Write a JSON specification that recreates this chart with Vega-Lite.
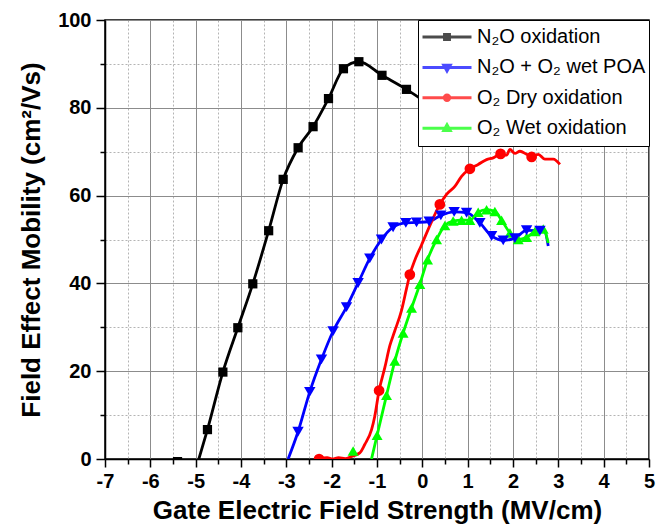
{
  "$schema": "https://vega.github.io/schema/vega-lite/v6.json",
  "width": 544,
  "height": 439,
  "autosize": "none",
  "padding": {"left": 105, "top": 20, "right": 10, "bottom": 72},
  "background": "white",
  "config": {
    "view": {"stroke": "black", "strokeWidth": 1.5},
    "font": "Liberation Sans"
  },
  "datasets": {
    "lines": [
      {"series": "N₂O oxidation", "field_strength": -4.93, "mobility": 0},
      {"series": "N₂O oxidation", "field_strength": -4.74, "mobility": 6.7},
      {"series": "N₂O oxidation", "field_strength": -4.40, "mobility": 19.8},
      {"series": "N₂O oxidation", "field_strength": -4.07, "mobility": 29.9},
      {"series": "N₂O oxidation", "field_strength": -3.74, "mobility": 39.9},
      {"series": "N₂O oxidation", "field_strength": -3.39, "mobility": 52.0},
      {"series": "N₂O oxidation", "field_strength": -3.07, "mobility": 63.7},
      {"series": "N₂O oxidation", "field_strength": -2.74, "mobility": 70.9},
      {"series": "N₂O oxidation", "field_strength": -2.41, "mobility": 75.7},
      {"series": "N₂O oxidation", "field_strength": -2.07, "mobility": 82.1},
      {"series": "N₂O oxidation", "field_strength": -1.74, "mobility": 88.9},
      {"series": "N₂O oxidation", "field_strength": -1.40, "mobility": 90.5},
      {"series": "N₂O oxidation", "field_strength": -0.89, "mobility": 87.4},
      {"series": "N₂O oxidation", "field_strength": -0.35, "mobility": 84.2},
      {"series": "N₂O oxidation", "field_strength": 0.0, "mobility": 81.8},

      {"series": "N₂O + O₂ wet POA", "field_strength": -2.96, "mobility": 0},
      {"series": "N₂O + O₂ wet POA", "field_strength": -2.742, "mobility": 6.2},
      {"series": "N₂O + O₂ wet POA", "field_strength": -2.483, "mobility": 15.3},
      {"series": "N₂O + O₂ wet POA", "field_strength": -2.225, "mobility": 22.7},
      {"series": "N₂O + O₂ wet POA", "field_strength": -1.969, "mobility": 29.1},
      {"series": "N₂O + O₂ wet POA", "field_strength": -1.673, "mobility": 34.6},
      {"series": "N₂O + O₂ wet POA", "field_strength": -1.417, "mobility": 40.1},
      {"series": "N₂O + O₂ wet POA", "field_strength": -1.159, "mobility": 45.7},
      {"series": "N₂O + O₂ wet POA", "field_strength": -0.901, "mobility": 50.0},
      {"series": "N₂O + O₂ wet POA", "field_strength": -0.645, "mobility": 52.8},
      {"series": "N₂O + O₂ wet POA", "field_strength": -0.364, "mobility": 53.8},
      {"series": "N₂O + O₂ wet POA", "field_strength": -0.128, "mobility": 53.9},
      {"series": "N₂O + O₂ wet POA", "field_strength": 0.150, "mobility": 54.1},
      {"series": "N₂O + O₂ wet POA", "field_strength": 0.408, "mobility": 55.5},
      {"series": "N₂O + O₂ wet POA", "field_strength": 0.702, "mobility": 56.3},
      {"series": "N₂O + O₂ wet POA", "field_strength": 0.976, "mobility": 56.1},
      {"series": "N₂O + O₂ wet POA", "field_strength": 1.269, "mobility": 53.8},
      {"series": "N₂O + O₂ wet POA", "field_strength": 1.528, "mobility": 50.8},
      {"series": "N₂O + O₂ wet POA", "field_strength": 1.784, "mobility": 49.8},
      {"series": "N₂O + O₂ wet POA", "field_strength": 2.042, "mobility": 50.3},
      {"series": "N₂O + O₂ wet POA", "field_strength": 2.300, "mobility": 52.1},
      {"series": "N₂O + O₂ wet POA", "field_strength": 2.594, "mobility": 52.0},
      {"series": "N₂O + O₂ wet POA", "field_strength": 2.704, "mobility": 51.7},
      {"series": "N₂O + O₂ wet POA", "field_strength": 2.777, "mobility": 48.5},

      {"series": "O₂ Dry oxidation", "field_strength": -2.278, "mobility": 0},
      {"series": "O₂ Dry oxidation", "field_strength": -2.10, "mobility": 0.3},
      {"series": "O₂ Dry oxidation", "field_strength": -1.98, "mobility": 0},
      {"series": "O₂ Dry oxidation", "field_strength": -1.85, "mobility": 0.3},
      {"series": "O₂ Dry oxidation", "field_strength": -1.70, "mobility": 0.1},
      {"series": "O₂ Dry oxidation", "field_strength": -1.56, "mobility": 0.6},
      {"series": "O₂ Dry oxidation", "field_strength": -1.38, "mobility": 1.4},
      {"series": "O₂ Dry oxidation", "field_strength": -1.27, "mobility": 3.3},
      {"series": "O₂ Dry oxidation", "field_strength": -1.12, "mobility": 6.7},
      {"series": "O₂ Dry oxidation", "field_strength": -1.05, "mobility": 9.7},
      {"series": "O₂ Dry oxidation", "field_strength": -0.954, "mobility": 15.6},
      {"series": "O₂ Dry oxidation", "field_strength": -0.828, "mobility": 20.8},
      {"series": "O₂ Dry oxidation", "field_strength": -0.717, "mobility": 25.8},
      {"series": "O₂ Dry oxidation", "field_strength": -0.607, "mobility": 29.2},
      {"series": "O₂ Dry oxidation", "field_strength": -0.460, "mobility": 33.8},
      {"series": "O₂ Dry oxidation", "field_strength": -0.349, "mobility": 38.8},
      {"series": "O₂ Dry oxidation", "field_strength": -0.276, "mobility": 42.0},
      {"series": "O₂ Dry oxidation", "field_strength": -0.166, "mobility": 45.3},
      {"series": "O₂ Dry oxidation", "field_strength": -0.02, "mobility": 48.7},
      {"series": "O₂ Dry oxidation", "field_strength": 0.18, "mobility": 53.5},
      {"series": "O₂ Dry oxidation", "field_strength": 0.386, "mobility": 58.0},
      {"series": "O₂ Dry oxidation", "field_strength": 0.534, "mobility": 60.3},
      {"series": "O₂ Dry oxidation", "field_strength": 0.717, "mobility": 62.1},
      {"series": "O₂ Dry oxidation", "field_strength": 0.865, "mobility": 64.4},
      {"series": "O₂ Dry oxidation", "field_strength": 1.049, "mobility": 66.1},
      {"series": "O₂ Dry oxidation", "field_strength": 1.232, "mobility": 67.1},
      {"series": "O₂ Dry oxidation", "field_strength": 1.417, "mobility": 68.2},
      {"series": "O₂ Dry oxidation", "field_strength": 1.563, "mobility": 68.6},
      {"series": "O₂ Dry oxidation", "field_strength": 1.726, "mobility": 69.5},
      {"series": "O₂ Dry oxidation", "field_strength": 1.859, "mobility": 69.2},
      {"series": "O₂ Dry oxidation", "field_strength": 1.932, "mobility": 70.5},
      {"series": "O₂ Dry oxidation", "field_strength": 2.042, "mobility": 69.6},
      {"series": "O₂ Dry oxidation", "field_strength": 2.152, "mobility": 70.1},
      {"series": "O₂ Dry oxidation", "field_strength": 2.300, "mobility": 69.4},
      {"series": "O₂ Dry oxidation", "field_strength": 2.411, "mobility": 68.8},
      {"series": "O₂ Dry oxidation", "field_strength": 2.557, "mobility": 69.4},
      {"series": "O₂ Dry oxidation", "field_strength": 2.704, "mobility": 68.3},
      {"series": "O₂ Dry oxidation", "field_strength": 2.888, "mobility": 68.3},
      {"series": "O₂ Dry oxidation", "field_strength": 3.035, "mobility": 67.1},

      {"series": "O₂ Wet oxidation", "field_strength": -1.121, "mobility": 0},
      {"series": "O₂ Wet oxidation", "field_strength": -0.998, "mobility": 5.4},
      {"series": "O₂ Wet oxidation", "field_strength": -0.790, "mobility": 14.5},
      {"series": "O₂ Wet oxidation", "field_strength": -0.607, "mobility": 22.3},
      {"series": "O₂ Wet oxidation", "field_strength": -0.424, "mobility": 28.7},
      {"series": "O₂ Wet oxidation", "field_strength": -0.238, "mobility": 34.4},
      {"series": "O₂ Wet oxidation", "field_strength": -0.055, "mobility": 39.8},
      {"series": "O₂ Wet oxidation", "field_strength": 0.115, "mobility": 45.4},
      {"series": "O₂ Wet oxidation", "field_strength": 0.314, "mobility": 50.0},
      {"series": "O₂ Wet oxidation", "field_strength": 0.497, "mobility": 53.2},
      {"series": "O₂ Wet oxidation", "field_strength": 0.680, "mobility": 54.2},
      {"series": "O₂ Wet oxidation", "field_strength": 0.865, "mobility": 54.4},
      {"series": "O₂ Wet oxidation", "field_strength": 1.049, "mobility": 54.4},
      {"series": "O₂ Wet oxidation", "field_strength": 1.232, "mobility": 56.2},
      {"series": "O₂ Wet oxidation", "field_strength": 1.417, "mobility": 56.8},
      {"series": "O₂ Wet oxidation", "field_strength": 1.600, "mobility": 56.4},
      {"series": "O₂ Wet oxidation", "field_strength": 1.748, "mobility": 54.4},
      {"series": "O₂ Wet oxidation", "field_strength": 1.932, "mobility": 51.5},
      {"series": "O₂ Wet oxidation", "field_strength": 2.115, "mobility": 50.0},
      {"series": "O₂ Wet oxidation", "field_strength": 2.300, "mobility": 50.5},
      {"series": "O₂ Wet oxidation", "field_strength": 2.483, "mobility": 51.8},
      {"series": "O₂ Wet oxidation", "field_strength": 2.667, "mobility": 52.4},
      {"series": "O₂ Wet oxidation", "field_strength": 2.777, "mobility": 49.2}
    ],
    "marks": [
      {"series": "N₂O oxidation", "field_strength": -5.40, "mobility": -0.6},
      {"series": "N₂O oxidation", "field_strength": -4.74, "mobility": 6.7},
      {"series": "N₂O oxidation", "field_strength": -4.40, "mobility": 19.8},
      {"series": "N₂O oxidation", "field_strength": -4.07, "mobility": 29.9},
      {"series": "N₂O oxidation", "field_strength": -3.74, "mobility": 39.9},
      {"series": "N₂O oxidation", "field_strength": -3.39, "mobility": 52.0},
      {"series": "N₂O oxidation", "field_strength": -3.07, "mobility": 63.7},
      {"series": "N₂O oxidation", "field_strength": -2.74, "mobility": 70.9},
      {"series": "N₂O oxidation", "field_strength": -2.41, "mobility": 75.7},
      {"series": "N₂O oxidation", "field_strength": -2.07, "mobility": 82.1},
      {"series": "N₂O oxidation", "field_strength": -1.74, "mobility": 88.9},
      {"series": "N₂O oxidation", "field_strength": -1.40, "mobility": 90.5},
      {"series": "N₂O oxidation", "field_strength": -0.89, "mobility": 87.4},
      {"series": "N₂O oxidation", "field_strength": -0.35, "mobility": 84.2},

      {"series": "N₂O + O₂ wet POA", "field_strength": -2.742, "mobility": 6.2},
      {"series": "N₂O + O₂ wet POA", "field_strength": -2.483, "mobility": 15.3},
      {"series": "N₂O + O₂ wet POA", "field_strength": -2.225, "mobility": 22.7},
      {"series": "N₂O + O₂ wet POA", "field_strength": -1.969, "mobility": 29.1},
      {"series": "N₂O + O₂ wet POA", "field_strength": -1.673, "mobility": 34.6},
      {"series": "N₂O + O₂ wet POA", "field_strength": -1.417, "mobility": 40.1},
      {"series": "N₂O + O₂ wet POA", "field_strength": -1.159, "mobility": 45.7},
      {"series": "N₂O + O₂ wet POA", "field_strength": -0.901, "mobility": 50.0},
      {"series": "N₂O + O₂ wet POA", "field_strength": -0.645, "mobility": 52.8},
      {"series": "N₂O + O₂ wet POA", "field_strength": -0.364, "mobility": 53.8},
      {"series": "N₂O + O₂ wet POA", "field_strength": -0.128, "mobility": 53.9},
      {"series": "N₂O + O₂ wet POA", "field_strength": 0.150, "mobility": 54.1},
      {"series": "N₂O + O₂ wet POA", "field_strength": 0.408, "mobility": 55.5},
      {"series": "N₂O + O₂ wet POA", "field_strength": 0.702, "mobility": 56.3},
      {"series": "N₂O + O₂ wet POA", "field_strength": 0.976, "mobility": 56.1},
      {"series": "N₂O + O₂ wet POA", "field_strength": 1.269, "mobility": 53.8},
      {"series": "N₂O + O₂ wet POA", "field_strength": 1.528, "mobility": 50.8},
      {"series": "N₂O + O₂ wet POA", "field_strength": 1.784, "mobility": 49.8},
      {"series": "N₂O + O₂ wet POA", "field_strength": 2.042, "mobility": 50.3},
      {"series": "N₂O + O₂ wet POA", "field_strength": 2.300, "mobility": 52.1},
      {"series": "N₂O + O₂ wet POA", "field_strength": 2.594, "mobility": 52.0},

      {"series": "O₂ Dry oxidation", "field_strength": -2.278, "mobility": 0},
      {"series": "O₂ Dry oxidation", "field_strength": -0.954, "mobility": 15.6},
      {"series": "O₂ Dry oxidation", "field_strength": -0.276, "mobility": 42.0},
      {"series": "O₂ Dry oxidation", "field_strength": 0.386, "mobility": 58.0},
      {"series": "O₂ Dry oxidation", "field_strength": 1.049, "mobility": 66.1},
      {"series": "O₂ Dry oxidation", "field_strength": 1.726, "mobility": 69.5},
      {"series": "O₂ Dry oxidation", "field_strength": 2.411, "mobility": 68.8},

      {"series": "O₂ Wet oxidation", "field_strength": -1.527, "mobility": 1.8},
      {"series": "O₂ Wet oxidation", "field_strength": -0.998, "mobility": 5.4},
      {"series": "O₂ Wet oxidation", "field_strength": -0.790, "mobility": 14.5},
      {"series": "O₂ Wet oxidation", "field_strength": -0.607, "mobility": 22.3},
      {"series": "O₂ Wet oxidation", "field_strength": -0.424, "mobility": 28.7},
      {"series": "O₂ Wet oxidation", "field_strength": -0.238, "mobility": 34.4},
      {"series": "O₂ Wet oxidation", "field_strength": -0.055, "mobility": 39.8},
      {"series": "O₂ Wet oxidation", "field_strength": 0.115, "mobility": 45.4},
      {"series": "O₂ Wet oxidation", "field_strength": 0.314, "mobility": 50.0},
      {"series": "O₂ Wet oxidation", "field_strength": 0.497, "mobility": 53.2},
      {"series": "O₂ Wet oxidation", "field_strength": 0.680, "mobility": 54.2},
      {"series": "O₂ Wet oxidation", "field_strength": 0.865, "mobility": 54.4},
      {"series": "O₂ Wet oxidation", "field_strength": 1.049, "mobility": 54.4},
      {"series": "O₂ Wet oxidation", "field_strength": 1.232, "mobility": 56.2},
      {"series": "O₂ Wet oxidation", "field_strength": 1.417, "mobility": 56.8},
      {"series": "O₂ Wet oxidation", "field_strength": 1.600, "mobility": 56.4},
      {"series": "O₂ Wet oxidation", "field_strength": 1.748, "mobility": 54.4},
      {"series": "O₂ Wet oxidation", "field_strength": 1.932, "mobility": 51.5},
      {"series": "O₂ Wet oxidation", "field_strength": 2.115, "mobility": 50.0},
      {"series": "O₂ Wet oxidation", "field_strength": 2.300, "mobility": 50.5},
      {"series": "O₂ Wet oxidation", "field_strength": 2.483, "mobility": 51.8},
      {"series": "O₂ Wet oxidation", "field_strength": 2.667, "mobility": 52.4}
    ]
  },
  "resolve": {"axis": {"x": "independent", "y": "independent"}},
  "layer": [
    {
      "data": {"name": "marks"},
      "transform": [{"filter": "datum.series == 'legend only'"}],
      "mark": {"type": "point", "filled": true},
      "encoding": {
        "x": {
          "field": "field_strength", "type": "quantitative",
          "axis": {
            "orient": "bottom",
            "values": [-6.5, -5.5, -4.5, -3.5, -2.5, -1.5, -0.5, 0.5, 1.5, 2.5, 3.5, 4.5],
            "labels": false, "domain": false, "title": null,
            "ticks": true, "tickSize": 5, "tickWidth": 1.5, "tickColor": "black",
            "grid": true, "gridDash": [2, 2], "gridColor": "#b4b4b4", "gridWidth": 1
          }
        },
        "y": {
          "field": "mobility", "type": "quantitative",
          "axis": {
            "orient": "left",
            "values": [10, 30, 50, 70, 90],
            "labels": false, "domain": false, "title": null,
            "ticks": true, "tickSize": 5, "tickWidth": 1.5, "tickColor": "black",
            "grid": true, "gridDash": [2, 2], "gridColor": "#b4b4b4", "gridWidth": 1
          }
        },
        "color": {
          "field": "series", "type": "nominal",
          "scale": {
            "domain": ["N₂O oxidation", "N₂O + O₂ wet POA", "O₂ Dry oxidation", "O₂ Wet oxidation"],
            "range": ["#000000", "#0000ff", "#ff0000", "#00ff00"]
          },
          "legend": {
            "title": null, "orient": "top-right", "offset": 0, "padding": 3,
            "fillColor": "white", "strokeColor": "black",
            "symbolSize": 2401, "symbolStrokeWidth": 3, "clipHeight": 28, "rowPadding": 2.4,
            "labelFont": "Liberation Sans", "labelFontSize": 20, "labelColor": "black",
            "labelOffset": 4, "labelLimit": 400,
            "encode": {
              "symbols": {"update": {
                "stroke": {"scale": "color", "field": "value"},
                "fill": {"scale": "color", "field": "value"},
                "strokeWidth": {"value": 3},
                "opacity": {"value": 1}
              }}
            }
          }
        },
        "shape": {
          "field": "series", "type": "nominal",
          "scale": {
            "domain": ["N₂O oxidation", "N₂O + O₂ wet POA", "O₂ Dry oxidation", "O₂ Wet oxidation"],
            "range": [
              "M-1,0H1M-0.1,-0.1H0.1V0.1H-0.1Z",
              "M-1,0H1M-0.13,-0.09H0.13L0,0.14Z",
              "M-1,0H1M0.11,0A0.11,0.11,0,1,1,-0.11,0A0.11,0.11,0,1,1,0.11,0Z",
              "M-1,0H1M-0.13,0.09H0.13L0,-0.14Z"
            ]
          },
          "legend": {
            "title": null, "orient": "top-right", "offset": 0, "padding": 3,
            "fillColor": "white", "strokeColor": "black",
            "symbolSize": 2401, "symbolStrokeWidth": 3, "clipHeight": 28, "rowPadding": 2.4,
            "labelFont": "Liberation Sans", "labelFontSize": 20, "labelColor": "black",
            "labelOffset": 4, "labelLimit": 400,
            "encode": {
              "symbols": {"update": {
                "stroke": {"scale": "color", "field": "value"},
                "fill": {"scale": "color", "field": "value"},
                "strokeWidth": {"value": 3},
                "opacity": {"value": 1}
              }}
            }
          }
        }
      }
    },
    {
      "data": {"name": "lines"},
      "mark": {"type": "line", "strokeWidth": 2.8, "interpolate": "monotone", "clip": true},
      "encoding": {
        "x": {
          "field": "field_strength", "type": "quantitative",
          "scale": {"domain": [-7, 5], "nice": false, "zero": false},
          "axis": {
            "orient": "bottom",
            "values": [-7, -6, -5, -4, -3, -2, -1, 0, 1, 2, 3, 4, 5],
            "labelExpr": "'' + datum.value",
            "labelFont": "Liberation Sans", "labelFontSize": 20, "labelFontWeight": "bold", "labelColor": "black",
            "labelPadding": 4, "labelFlush": false, "labelOverlap": false,
            "tickSize": 8, "tickWidth": 1.5, "tickColor": "black",
            "domainColor": "black", "domainWidth": 1.5,
            "grid": true, "gridColor": "#8c8c8c", "gridWidth": 1,
            "title": "Gate Electric Field Strength (MV/cm)",
            "titleFont": "Liberation Sans", "titleFontSize": 26, "titleFontWeight": "bold", "titleColor": "black",
            "titlePadding": 6
          }
        },
        "y": {
          "field": "mobility", "type": "quantitative",
          "scale": {"domain": [0, 100], "nice": false},
          "axis": {
            "orient": "left",
            "values": [0, 20, 40, 60, 80, 100],
            "labelFont": "Liberation Sans", "labelFontSize": 20, "labelFontWeight": "bold", "labelColor": "black",
            "labelPadding": 5, "labelFlush": false, "labelOverlap": false,
            "tickSize": 9, "tickWidth": 1.5, "tickColor": "black",
            "domainColor": "black", "domainWidth": 1.5,
            "grid": true, "gridColor": "#8c8c8c", "gridWidth": 1,
            "title": "Field Effect Mobility (cm²/Vs)",
            "titleFont": "Liberation Sans", "titleFontSize": 26, "titleFontWeight": "bold", "titleColor": "black",
            "titlePadding": 13
          }
        },
        "stroke": {
          "field": "series", "type": "nominal",
          "scale": {
            "domain": ["N₂O oxidation", "N₂O + O₂ wet POA", "O₂ Dry oxidation", "O₂ Wet oxidation"],
            "range": ["#000000", "#0000ff", "#ff0000", "#00ff00"]
          },
          "legend": null
        }
      }
    },
    {
      "data": {"name": "marks"},
      "transform": [{"filter": "datum.series == 'N₂O oxidation'"}],
      "mark": {"type": "point", "shape": "square", "filled": true, "color": "#000000", "size": 85, "opacity": 1, "clip": true},
      "encoding": {
        "x": {"field": "field_strength", "type": "quantitative", "axis": null},
        "y": {"field": "mobility", "type": "quantitative", "axis": null}
      }
    },
    {
      "data": {"name": "marks"},
      "transform": [{"filter": "datum.series == 'O₂ Dry oxidation'"}],
      "mark": {"type": "point", "shape": "circle", "filled": true, "color": "#ff0000", "size": 115, "opacity": 1, "clip": true},
      "encoding": {
        "x": {"field": "field_strength", "type": "quantitative", "axis": null},
        "y": {"field": "mobility", "type": "quantitative", "axis": null}
      }
    },
    {
      "data": {"name": "marks"},
      "transform": [{"filter": "datum.series == 'O₂ Wet oxidation'"}],
      "mark": {"type": "point", "shape": "triangle-up", "filled": true, "color": "#00ff00", "size": 120, "opacity": 1, "clip": true},
      "encoding": {
        "x": {"field": "field_strength", "type": "quantitative", "axis": null},
        "y": {"field": "mobility", "type": "quantitative", "axis": null}
      }
    },
    {
      "data": {"name": "marks"},
      "transform": [{"filter": "datum.series == 'N₂O + O₂ wet POA'"}],
      "mark": {"type": "point", "shape": "triangle-down", "filled": true, "color": "#0000ff", "size": 130, "opacity": 1, "clip": true},
      "encoding": {
        "x": {"field": "field_strength", "type": "quantitative", "axis": null},
        "y": {"field": "mobility", "type": "quantitative", "axis": null}
      }
    }
  ]
}
